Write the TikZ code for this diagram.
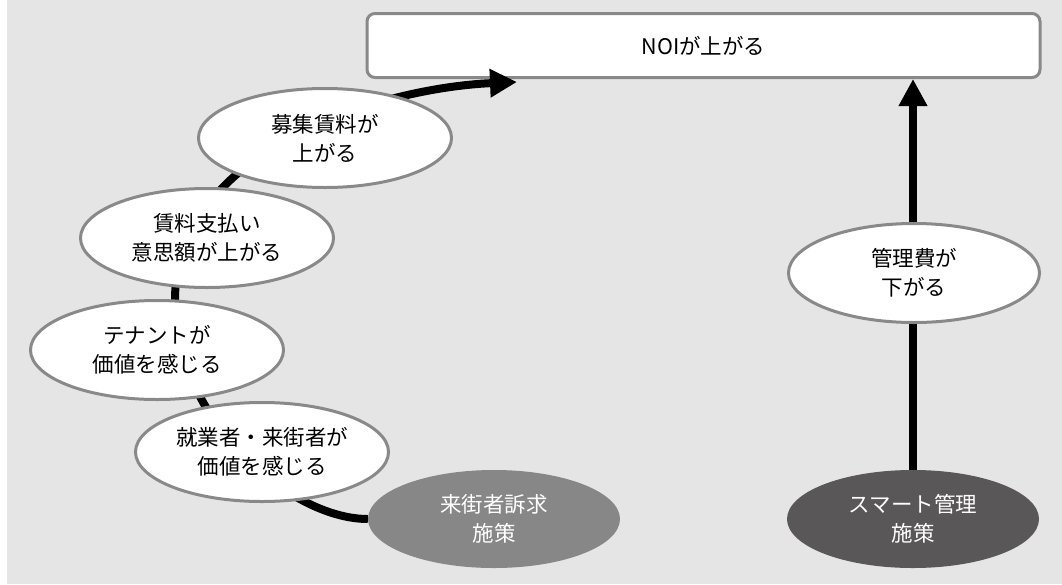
\documentclass[tikz,border=0pt]{standalone}
\usepackage{fontspec}
\setmainfont{Noto Sans CJK JP}
\usetikzlibrary{arrows.meta,shapes.geometric}
\definecolor{bg}{HTML}{E5E5E5}
\definecolor{bord}{HTML}{898989}
\definecolor{midg}{HTML}{878787}
\definecolor{darkg}{HTML}{595757}
\tikzset{
  txt/.style={font=\fontsize{21.5}{29}\selectfont, align=center},
  bubble/.style={ellipse, draw=bord, line width=3pt, fill=white, minimum width=253pt, minimum height=99pt, inner sep=0pt, txt},
  source/.style={ellipse, minimum width=252pt, minimum height=98pt, inner sep=0pt, txt, text=white},
  flow/.style={line width=8pt, -{Triangle[length=27pt,width=27pt]}},
}
\begin{document}
\begin{tikzpicture}[x=1pt,y=-1pt]
\useasboundingbox (0,0) rectangle (1062,584);
\fill[bg] (7,0) rectangle (1062,584);
\node[draw=bord, line width=3pt, fill=white, rounded corners=8pt, minimum width=673pt, minimum height=64pt, inner sep=0pt, txt] (noi) at (703.5,45.5) {NOIが上がる};
\node[source, fill=midg] (s1) at (494,519) {来街者訴求\\施策};
\node[source, fill=darkg] (s2) at (913,519) {スマート管理\\施策};
\coordinate (t1) at (517,82);
\coordinate (mid) at (175,300);
\draw[flow] (s1.west) .. controls (290,519) and (175,420) .. (mid) .. controls (175,150) and (380,88) .. (t1);
\draw[flow] (s2.north) -- (noi.south -| s2.north);
\node[bubble] (e1) at (325,138) {募集賃料が\\上がる};
\node[bubble] (e2) at (207,238) {賃料支払い\\意思額が上がる};
\node[bubble] (e3) at (157,350) {テナントが\\価値を感じる};
\node[bubble] (e4) at (262,452) {就業者・来街者が\\価値を感じる};
\node[bubble, minimum width=251pt] (e7) at (914,273) {管理費が\\下がる};
\end{tikzpicture}
\end{document}
